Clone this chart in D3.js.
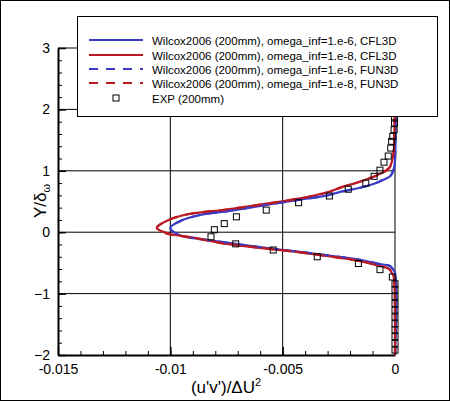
<!DOCTYPE html>
<html>
<head>
<meta charset="utf-8">
<script src="https://cdn.jsdelivr.net/npm/d3@7/dist/d3.min.js"></script>
<style>
  body { margin: 0; background: #fff; }
  svg { display: block; font-family: "Liberation Sans", Arial, sans-serif; }
</style>
</head>
<body>
<div id="chart"></div>
<script>
// profile data: Y/delta_w and (u'v')/dU^2
var cfl3dE6Y = [-2.0, -0.66, -0.60, -0.55, -0.52, -0.45, -0.32, -0.27, -0.17, -0.11, -0.05, 0.07, 0.18, 0.28, 0.34, 0.44, 0.53, 0.60, 0.66, 0.72, 0.78, 0.83, 0.91, 1.02, 1.18, 3.0];
var cfl3dE6X = [0, 0, -0.0001, -0.00022, -0.00067, -0.00156, -0.00423, -0.0054, -0.0075, -0.00868, -0.00957, -0.0100, -0.00957, -0.00868, -0.0075, -0.0058, -0.00423, -0.0030, -0.0024, -0.0016, -0.0010, -0.00067, -0.00022, -0.00006, 0, 0];

var cfl3dE8Y = [-2.0, -1.0, -0.80, -0.70, -0.66, -0.60, -0.55, -0.47, -0.33, -0.28, -0.19, -0.08, -0.03, 0.07, 0.21, 0.30, 0.37, 0.46, 0.55, 0.65, 0.73, 0.83, 0.95, 1.05, 1.18, 1.30, 1.60, 2.0, 3.0];
var cfl3dE8X = [0, -0.00001, -0.00003, -0.00008, -0.00015, -0.00025, -0.00067, -0.00156, -0.00423, -0.0054, -0.0075, -0.0091, -0.0100, -0.0106, -0.0100, -0.0091, -0.0075, -0.0058, -0.00423, -0.0030, -0.0024, -0.0015, -0.00067, -0.00025, -0.00012, -0.00006, -0.00003, -0.00001, 0];

var fun3dE6Y = [-2.0, -0.66, -0.60, -0.55, -0.52, -0.45, -0.32, -0.27, -0.17, -0.11, -0.05, 0.07, 0.18, 0.28, 0.34, 0.44, 0.53, 0.60, 0.66, 0.72, 0.78, 0.83, 0.91, 1.02, 1.18, 3.0];
var fun3dE6X = [0, 0, -0.0001, -0.00022, -0.00067, -0.00156, -0.00423, -0.0054, -0.0075, -0.00868, -0.00957, -0.0100, -0.00957, -0.00868, -0.0075, -0.0058, -0.00423, -0.0030, -0.0024, -0.0016, -0.0010, -0.00067, -0.00022, -0.00006, 0, 0];

var fun3dE8Y = [-2.0, -1.0, -0.80, -0.70, -0.66, -0.60, -0.55, -0.47, -0.33, -0.28, -0.19, -0.08, -0.03, 0.07, 0.21, 0.30, 0.37, 0.46, 0.55, 0.65, 0.73, 0.83, 0.95, 1.05, 1.18, 1.30, 1.60, 2.0, 3.0];
var fun3dE8X = [0, -0.00001, -0.00003, -0.00008, -0.00015, -0.00025, -0.00067, -0.00156, -0.00423, -0.0054, -0.0075, -0.0092, -0.0101, -0.0106, -0.0100, -0.0091, -0.0075, -0.0058, -0.00423, -0.0030, -0.0024, -0.0015, -0.00067, -0.00025, -0.00012, -0.00006, -0.00003, -0.00001, 0];

var expY = [-1.92, -1.81, -1.70, -1.59, -1.49, -1.38, -1.27, -1.16, -1.05, -0.94, -0.84, -0.73, -0.61, -0.51, -0.40, -0.29, -0.19, -0.075, 0.04, 0.14, 0.25, 0.36, 0.48, 0.59, 0.70, 0.80, 0.91, 1.01, 1.14, 1.24, 1.37, 1.48, 1.56, 1.67, 1.78, 1.86];
var expX = [0, 0, 0, 0, 0, 0, 0, 0, 0, 0, 0, -0.00012, -0.00067, -0.00163, -0.00346, -0.00542, -0.00709, -0.00819, -0.00804, -0.0076, -0.00706, -0.00573, -0.00429, -0.00292, -0.00208, -0.0013, -0.00093, -0.00067, -0.00049, -0.0003, -0.00019, -0.00015, -0.0001, -0.00004, -0.00002, -0.00002];

var legendLabels = [
  "Wilcox2006 (200mm), omega_inf=1.e-6, CFL3D",
  "Wilcox2006 (200mm), omega_inf=1.e-8, CFL3D",
  "Wilcox2006 (200mm), omega_inf=1.e-6, FUN3D",
  "Wilcox2006 (200mm), omega_inf=1.e-8, FUN3D",
  "EXP (200mm)"
];
var xTicks = [-0.015, -0.01, -0.005, 0];
var xTickLabels = ["-0.015", "-0.01", "-0.005", "0"];
var yTicks = [-2, -1, 0, 1, 2, 3];

var width = 450, height = 401;
var blue = "#3b3bc4", red = "#bb1a22";

var svg = d3.select("#chart").append("svg")
  .attr("width", width)
  .attr("height", height);

var x = d3.scaleLinear().domain([-0.015, 0]).range([58, 395]);
var y = d3.scaleLinear().domain([-2, 3]).range([355, 48]);

// outer frame
svg.append("rect")
  .attr("x", 0.5).attr("y", 0.5)
  .attr("width", width - 1).attr("height", height - 1)
  .style("fill", "none").style("stroke", "black");

// grid
var grid = svg.append("g");
grid.selectAll(".vg").data(xTicks.slice(1)).enter().append("line")
  .attr("x1", d => x(d)).attr("x2", d => x(d))
  .attr("y1", y(-2)).attr("y2", y(3))
  .style("stroke", "black");
grid.selectAll(".hg").data(yTicks.slice(1)).enter().append("line")
  .attr("x1", x(-0.015)).attr("x2", x(0))
  .attr("y1", d => y(d)).attr("y2", d => y(d))
  .style("stroke", "black");

// minor ticks
var xMinor = d3.range(-15, 1).map(d => d / 1000);
var yMinor = d3.range(-10, 16).map(d => d / 5);
svg.append("g")
  .attr("transform", "translate(0," + y(-2) + ")")
  .call(d3.axisBottom(x).tickValues(xMinor).tickSize(-4).tickSizeOuter(0).tickFormat(""))
  .call(g => g.select(".domain").remove());
svg.append("g")
  .attr("transform", "translate(" + x(-0.015) + ",0)")
  .call(d3.axisLeft(y).tickValues(yMinor).tickSize(-4).tickSizeOuter(0).tickFormat(""))
  .call(g => g.select(".domain").remove());

// major axes
var xAxis = svg.append("g")
  .attr("transform", "translate(0," + y(-2) + ")")
  .call(d3.axisBottom(x).tickValues(xTicks).tickSizeInner(-8).tickSizeOuter(0).tickPadding(9)
    .tickFormat((d, i) => xTickLabels[i]));
var yAxis = svg.append("g")
  .attr("transform", "translate(" + x(-0.015) + ",0)")
  .call(d3.axisLeft(y).tickValues(yTicks).tickSizeInner(-8).tickSizeOuter(0).tickPadding(8)
    .tickFormat(d3.format("d")));
[xAxis, yAxis].forEach(function(a) {
  a.selectAll("text").style("font-size", "14px").style("fill", "black")
    .style("font-family", "'Liberation Sans', Arial, sans-serif");
  a.select(".domain").style("stroke-width", 2);
  a.selectAll(".tick line").style("stroke-width", 1.5);
});

// curves
var line = d3.line()
  .x(d => x(d[0]))
  .y(d => y(d[1]))
  .curve(d3.curveCatmullRom);

var series = [
  { xs: cfl3dE6X, ys: cfl3dE6Y, color: blue, dash: null },
  { xs: cfl3dE8X, ys: cfl3dE8Y, color: red, dash: null },
  { xs: fun3dE6X, ys: fun3dE6Y, color: blue, dash: "9,8" },
  { xs: fun3dE8X, ys: fun3dE8Y, color: red, dash: "9,8" }
];

var curves = svg.append("g");
series.forEach(function(s) {
  curves.append("path")
    .datum(d3.zip(s.xs, s.ys))
    .attr("d", line)
    .style("fill", "none")
    .style("stroke", s.color)
    .style("stroke-width", 2.2)
    .style("stroke-dasharray", s.dash);
});

// experiment
svg.append("g").selectAll("rect")
  .data(d3.zip(expX, expY))
  .enter().append("rect")
  .attr("x", d => x(d[0]) - 3)
  .attr("y", d => y(d[1]) - 3)
  .attr("width", 6).attr("height", 6)
  .style("fill", "none")
  .style("stroke", "black")
  .style("stroke-width", 1);

// legend
var legend = svg.append("g");
legend.append("rect")
  .attr("x", 77.5).attr("y", 16.5)
  .attr("width", 360).attr("height", 100)
  .style("fill", "white").style("stroke", "black");

var rowY = [40, 55, 69, 83, 98];
legendLabels.forEach(function(label, i) {
  if (i < 4) {
    var s = series[i];
    legend.append("line")
      .attr("x1", 89).attr("x2", 143)
      .attr("y1", rowY[i]).attr("y2", rowY[i])
      .style("stroke", s.color)
      .style("stroke-width", 2.2)
      .style("stroke-dasharray", s.dash);
  } else {
    legend.append("rect")
      .attr("x", 113).attr("y", rowY[i] - 3)
      .attr("width", 6).attr("height", 6)
      .style("fill", "none").style("stroke", "black");
  }
  legend.append("text")
    .attr("x", 152).attr("y", rowY[i] + 4.5)
    .style("font-size", "11.5px")
    .text(label);
});

// axis titles
var xTitle = svg.append("text")
  .attr("x", 226).attr("y", 393)
  .attr("text-anchor", "middle")
  .style("font-size", "17px");
xTitle.append("tspan").text("(u'v')/\u0394U");
xTitle.append("tspan").attr("dy", -7).style("font-size", "11px").text("2");

var yTitle = svg.append("text")
  .attr("transform", "translate(46,201) rotate(-90)")
  .attr("text-anchor", "middle")
  .style("font-size", "17px");
yTitle.append("tspan").text("Y/\u03b4");
yTitle.append("tspan").attr("dy", 4).style("font-size", "11px").text("\u03c9");
</script>
</body>
</html>
